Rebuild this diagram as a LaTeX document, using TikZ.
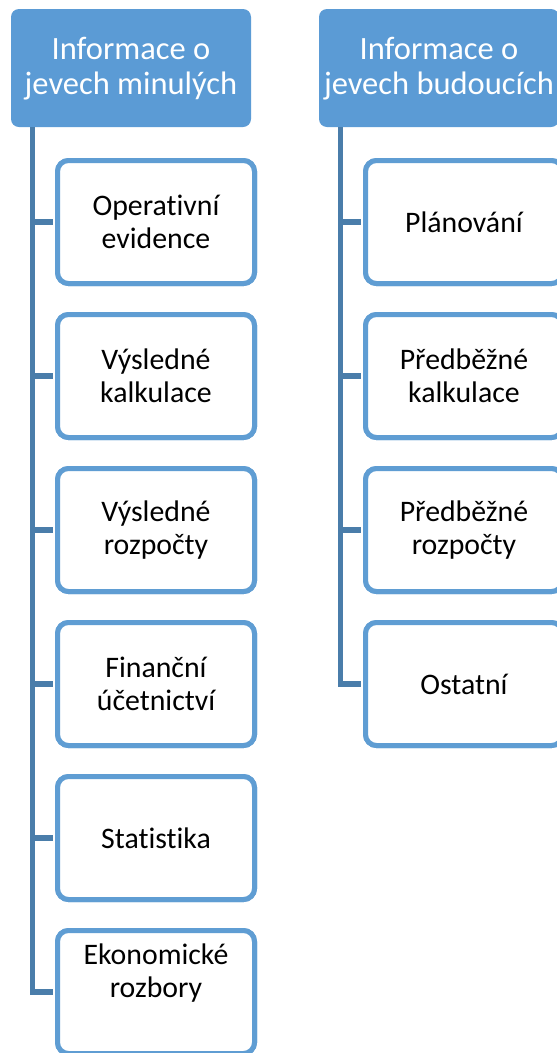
\documentclass[tikz,border=0pt]{standalone}
\usepackage{fontspec}
\setmainfont[Ligatures=NoCommon]{Carlito}
\definecolor{hdrblue}{HTML}{5B9BD5}
\definecolor{boxblue}{HTML}{5F9DD3}
\definecolor{connblue}{HTML}{4A7DAA}
\tikzset{
  header/.style={fill=hdrblue, draw=none, rounded corners=8pt, minimum width=240pt, minimum height=118pt, inner sep=0pt},
  hdrtext/.style={text=white, align=center, font=\fontsize{32.5}{35}\selectfont},
  child/.style={draw=boxblue, line width=5pt, fill=white, rounded corners=11pt, minimum width=197pt, minimum height=123pt, inner sep=0pt},
  childtext/.style={text=black, align=center, font=\fontsize{29.8}{33}\selectfont},
  conn/.style={draw=connblue, line width=5.5pt}
}
\begin{document}
\begin{tikzpicture}[x=1pt,y=-1pt]
\useasboundingbox (0,0) rectangle (557,1053);
\clip (0,0) rectangle (557,1053);
\fill[white] (0,0) rectangle (557,1053);
% headers
\node[header] (h1) at (131,68) {};
\node[hdrtext] (h1t) at (131,69) {Informace o\\jevech minulých};
\node[header] (h2) at (439,68) {};
\node[hdrtext] (h2t) at (439,69) {Informace o\\jevech budoucích};
% connector base points
\coordinate (l1) at ([xshift=21.5pt]h1.south west);
\coordinate (l2) at ([xshift=21.5pt]h2.south west);
% left children
\node[child] (c1) at (156,222) {};
\node[child] (c2) at (156,376) {};
\node[child] (c3) at (156,530) {};
\node[child] (c4) at (156,684) {};
\node[child] (c5) at (156,838) {};
\node[child] (c6) at (156,992) {};
% right children
\node[child] (d1) at (464,222) {};
\node[child] (d2) at (464,376) {};
\node[child] (d3) at (464,530) {};
\node[child] (d4) at (464,684) {};
% connectors
\foreach \c in {c1,c2,c3,c4,c5,c6} {\draw[conn] (l1) |- ([xshift=-2pt]\c.west);}
\foreach \d in {d1,d2,d3,d4} {\draw[conn] (l2) |- ([xshift=-2pt]\d.west);}
% redraw boxes over connector ends
\foreach \c/\y in {c1/222,c2/376,c3/530,c4/684,c5/838,c6/992} {\node[child] at (156,\y) {};}
\foreach \d/\y in {d1/222,d2/376,d3/530,d4/684} {\node[child] at (464,\y) {};}
% texts
\node[childtext] (t1) at (c1) {Operativní\\evidence};
\node[childtext] (t2) at (c2) {Výsledné\\kalkulace};
\node[childtext] (t3) at (c3) {Výsledné\\rozpočty};
\node[childtext] (t4) at (c4) {Finanční\\účetnictví};
\node[childtext] (t5) at (c5) {Statistika};
\node[childtext] (t6) at ([yshift=19pt]c6.center) {Ekonomické\\rozbory};
\node[childtext] (u1) at (d1) {Plánování};
\node[childtext] (u2) at (d2) {Předběžné\\kalkulace};
\node[childtext] (u3) at (d3) {Předběžné\\rozpočty};
\node[childtext] (u4) at (d4) {Ostatní};
\end{tikzpicture}
\end{document}
